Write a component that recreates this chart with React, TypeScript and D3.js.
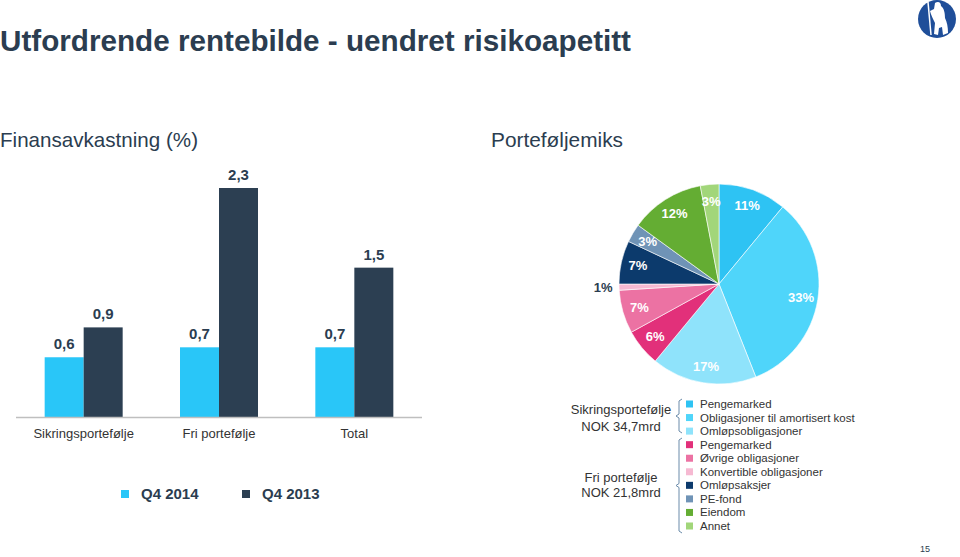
import React from "react";
import * as d3 from "d3";

const categories = ["Sikringsportefølje", "Fri portefølje", "Total"];
const seriesNames = ["Q4 2014", "Q4 2013"];
const q42014 = [0.6, 0.7, 0.7];
const q42013 = [0.9, 2.3, 1.5];
const seriesColors = ["#29C6F8", "#2C3F52"];

const pieLabels = ["11%", "33%", "17%", "6%", "7%", "1%", "7%", "3%", "12%", "3%"];
const pieValues = [11, 33, 17, 6, 7, 1, 7, 3, 12, 3];
const pieColors = ["#2EC3F3", "#4FD5FA", "#8FE3FB", "#E2307A", "#EC72A3", "#F6B9D2", "#0C3A6C", "#6F93B6", "#64AD33", "#A2D67A"];
const legendNames = [
  "Pengemarked",
  "Obligasjoner til amortisert kost",
  "Omløpsobligasjoner",
  "Pengemarked",
  "Øvrige obligasjoner",
  "Konvertible obligasjoner",
  "Omløpsaksjer",
  "PE-fond",
  "Eiendom",
  "Annet",
];

const DARK = "#2B3D50";
const FONT = "'Liberation Sans', Arial, sans-serif";
const fmt = (v: number) => v.toFixed(1).replace(".", ",");

export default function App() {
  const x = d3.scaleBand<string>().domain(categories).range([16, 422]).padding(0);
  const xs = d3.scaleBand<string>().domain(seriesNames).range([-39, 39]).padding(0);
  const y = d3.scaleLinear().domain([0, 2.3]).range([417, 188]);
  const series = [q42014, q42013];

  const cx = 719, cy = 284, r = 100;
  const pie = d3.pie<number>().sort(null).value((d) => d)(pieValues);
  const arc = d3.arc<d3.PieArcDatum<number>>().innerRadius(0).outerRadius(r);
  const labelArc = d3.arc<d3.PieArcDatum<number>>().innerRadius(83).outerRadius(83);
  const outerArc = d3.arc<d3.PieArcDatum<number>>().innerRadius(116).outerRadius(116);

  const legY = d3.scaleLinear().domain([0, 9]).range([404, 526]);

  const bracket = (x0: number, y0: number, y1: number) => {
    const m = (y0 + y1) / 2;
    return `M${x0 + 3},${y0} L${x0},${y0 + 2} L${x0},${m - 2} L${x0 - 3},${m} L${x0},${m + 2} L${x0},${y1 - 2} L${x0 + 3},${y1}`;
  };

  return (
    <svg width={960} height={557} style={{ position: "absolute", left: 0, top: 0, background: "#fff" }} fontFamily={FONT}>
      <text x={0} y={51} fontSize={30} fontWeight="bold" fill={DARK} textLength={631} lengthAdjust="spacingAndGlyphs">
        Utfordrende rentebilde - uendret risikoapetitt
      </text>
      {/* logo */}
      <g transform="translate(937,19)">
        <circle r={19} fill="#1F4E99" />
        <path d="M-9,-17 L-6,16" stroke="#fff" strokeWidth={1.5} />
        <path d="M-2,-16 C1,-18 4,-17 4,-13 C7,-11 8,-6 8,-1 C10,3 11,8 11,14 L6,16 L5,8 L2,9 L1,16 L-3,15 L-2,4 C-4,0 -6,-4 -7,-8 L-3,-10 Z" fill="#fff" />
      </g>

      <text x={0} y={147} fontSize={21} fill={DARK} textLength={198} lengthAdjust="spacingAndGlyphs">
        Finansavkastning (%)
      </text>
      <text x={491} y={147} fontSize={21} fill={DARK} textLength={132} lengthAdjust="spacingAndGlyphs">
        Porteføljemiks
      </text>

      {/* bars */}
      {categories.map((c, i) => (
        <g key={c}>
          {seriesNames.map((s, j) => {
            const v = series[j][i];
            const bx = (x(c) as number) + x.bandwidth() / 2 + (xs(s) as number);
            return (
              <g key={s}>
                <rect x={bx} y={y(v)} width={xs.bandwidth()} height={y(0) - y(v)} fill={seriesColors[j]} />
                <text x={bx + xs.bandwidth() / 2} y={y(v) - 8} textAnchor="middle" fontSize={15} fontWeight="bold" fill={DARK}>
                  {fmt(v)}
                </text>
              </g>
            );
          })}
          <text x={(x(c) as number) + x.bandwidth() / 2} y={438} textAnchor="middle" fontSize={13} fill="#333">
            {c}
          </text>
        </g>
      ))}
      <line x1={16} x2={422} y1={417.5} y2={417.5} stroke="#BFBFBF" strokeWidth={1.5} />

      {/* bar legend */}
      {seriesNames.map((s, j) => (
        <g key={s} transform={`translate(${121 + j * 121},0)`}>
          <rect x={0} y={490} width={8} height={8} fill={seriesColors[j]} />
          <text x={20} y={499} fontSize={15} fontWeight="bold" fill={DARK}>
            {s}
          </text>
        </g>
      ))}

      {/* pie */}
      <g transform={`translate(${cx},${cy})`}>
        {pie.map((d, i) => (
          <path key={i} d={arc(d) || ""} fill={pieColors[i]} stroke="#fff" strokeWidth={0.6} />
        ))}
        {pie.map((d, i) => {
          const outside = pieValues[i] < 2;
          const [lx, ly] = outside ? outerArc.centroid(d) : labelArc.centroid(d);
          return (
            <text key={"l" + i} x={lx} y={ly} dy="0.35em" textAnchor="middle" fontSize={13} fontWeight="bold" fill={outside ? DARK : "#fff"}>
              {pieLabels[i]}
            </text>
          );
        })}
      </g>

      {/* pie legend */}
      <text x={621} y={414} textAnchor="middle" fontSize={13} fill="#333">Sikringsportefølje</text>
      <text x={621} y={431} textAnchor="middle" fontSize={13} fill="#333">NOK 34,7mrd</text>
      <text x={621} y={482} textAnchor="middle" fontSize={13} fill="#333">Fri portefølje</text>
      <text x={621} y={497} textAnchor="middle" fontSize={13} fill="#333">NOK 21,8mrd</text>
      <path d={bracket(679, 399, 433)} fill="none" stroke="#6A8BAA" strokeWidth={1} />
      <path d={bracket(679, 438, 533)} fill="none" stroke="#6A8BAA" strokeWidth={1} />
      {legendNames.map((n, i) => (
        <g key={i}>
          <rect x={686} y={legY(i) - 3.5} width={7} height={7} fill={pieColors[i]} />
          <text x={700} y={legY(i)} dy="0.35em" fontSize={11.5} fill="#333">
            {n}
          </text>
        </g>
      ))}

      <text x={925} y={552} textAnchor="middle" fontSize={9} fill={DARK}>15</text>
    </svg>
  );
}
